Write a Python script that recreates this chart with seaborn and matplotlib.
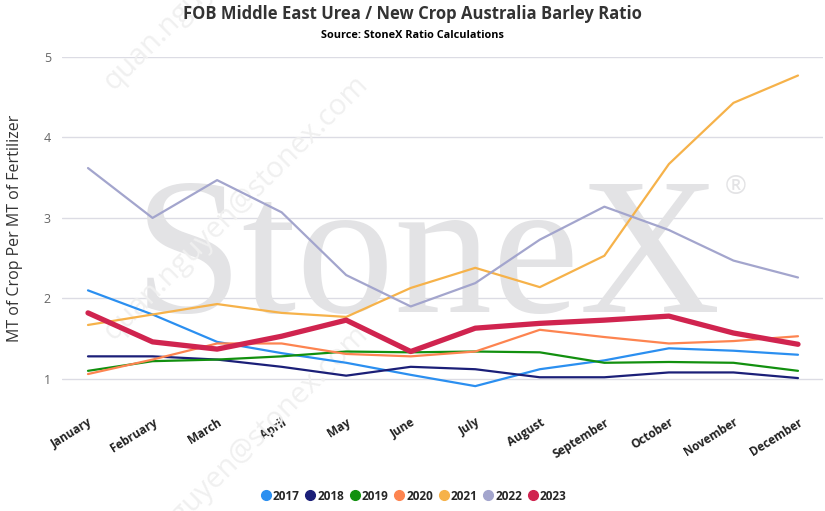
import matplotlib
matplotlib.use('Agg')
import matplotlib.pyplot as plt
import matplotlib.transforms as mtransforms
import pandas as pd
import seaborn as sns
from matplotlib.lines import Line2D

MONTHS = ['January', 'February', 'March', 'April', 'May', 'June', 'July',
          'August', 'September', 'October', 'November', 'December']
YEARS = ['2017', '2018', '2019', '2020', '2021', '2022', '2023']

r2017 = [2.10, 1.80, 1.46, 1.32, 1.20, 1.05, 0.91, 1.12, 1.23, 1.38, 1.35, 1.30]
r2018 = [1.28, 1.28, 1.24, 1.15, 1.04, 1.15, 1.12, 1.02, 1.02, 1.08, 1.08, 1.01]
r2019 = [1.10, 1.22, 1.24, 1.28, 1.34, 1.33, 1.34, 1.33, 1.20, 1.21, 1.20, 1.10]
r2020 = [1.06, 1.24, 1.44, 1.44, 1.31, 1.28, 1.34, 1.61, 1.52, 1.44, 1.47, 1.53]
r2021 = [1.67, 1.80, 1.93, 1.82, 1.77, 2.13, 2.38, 2.14, 2.53, 3.67, 4.43, 4.77]
r2022 = [3.62, 3.00, 3.47, 3.07, 2.29, 1.90, 2.19, 2.73, 3.14, 2.85, 2.47, 2.26]
r2023 = [1.82, 1.46, 1.37, 1.53, 1.73, 1.34, 1.63, 1.69, 1.73, 1.78, 1.57, 1.43]

COLORS = ['#2b8ff0', '#1b1f78', '#12900f', '#fd8450', '#f6b24a', '#a3a5cd', '#d0244f']


def main():
    series = [r2017, r2018, r2019, r2020, r2021, r2022, r2023]
    rows = []
    for year, vals in zip(YEARS, series):
        for i, v in enumerate(vals):
            rows.append({'year': year, 'month': i, 'ratio': v})
    df = pd.DataFrame(rows)

    sns.set_style('white')
    plt.rcParams['font.family'] = ['Open Sans', 'DejaVu Sans']

    fig = plt.figure(figsize=(8.25, 5.11), dpi=100)
    ax = fig.add_axes([62 / 825, 1 - 399 / 511, 761 / 825, 342 / 511])

    palette = dict(zip(YEARS, COLORS))
    sizes = {y: 1.6 for y in YEARS}
    sizes['2023'] = 3.8
    sns.lineplot(data=df, x='month', y='ratio', hue='year', size='year',
                 palette=palette, sizes=sizes, legend=False, ax=ax,
                 zorder=3)

    # watermark
    ax.text(428 / 825, 1 - 312 / 511, 'StoneX', transform=fig.transFigure,
            fontsize=141, family='Liberation Serif', color='#e3e3e5',
            ha='center', va='baseline', zorder=0.6)
    ax.text(736 / 825, 1 - 187 / 511, '®', transform=fig.transFigure,
            fontsize=19, color='#e3e3e5', ha='center', va='center', zorder=0.6)
    for cy in (-42, 208, 458):
        ax.text(236 / 825, 1 - cy / 511, 'quan.nguyen@stonex.com',
                transform=fig.transFigure, fontsize=21, color='#f0f0f0',
                rotation=45, ha='center', va='center', zorder=0.6,
                rotation_mode='anchor', clip_on=False)

    ax.set_xlim(-26 / 64.55, 11 + 25 / 64.55)
    ax.set_ylim(0.75, 5.0)
    ax.set_yticks([1, 2, 3, 4, 5])
    ax.set_xticks(range(12))
    ax.set_xticklabels(MONTHS, rotation=32, ha='right', rotation_mode='anchor',
                       fontsize=8.5, fontweight='bold', color='#222222')
    shift = mtransforms.ScaledTranslation(-5 / 100, -4 / 100, fig.dpi_scale_trans)
    for lab in ax.get_xticklabels():
        lab.set_transform(lab.get_transform() + shift)
    ax.tick_params(axis='y', labelsize=9, labelcolor='#666666', length=0, pad=8)
    ax.tick_params(axis='x', length=0, pad=12)
    ax.grid(axis='y', color='#dcdce4', linewidth=1)
    ax.set_axisbelow(True)
    for s in ax.spines.values():
        s.set_visible(False)
    ax.set_xlabel('')
    ax.set_ylabel('MT of Crop Per MT of Fertilizer', fontsize=11.5, color='#333333',
                  labelpad=15)
    ax.patch.set_alpha(0)

    fig.text(0.5, 1 - 14 / 511, 'FOB Middle East Urea / New Crop Australia Barley Ratio',
             ha='center', va='center', fontsize=12, fontweight='bold', color='#333333')
    fig.text(0.5, 1 - 35 / 511, 'Source: StoneX Ratio Calculations',
             ha='center', va='center', fontsize=7.8, fontweight='bold', color='#000000')

    handles = [Line2D([], [], linestyle='none', marker='o', markersize=7,
                      markerfacecolor=c, markeredgecolor=c) for c in COLORS]
    fig.legend(handles, YEARS, loc='center', bbox_to_anchor=(0.5, 1 - 496 / 511),
               ncol=7, frameon=False, handletextpad=0.0, columnspacing=0.3,
               prop={'size': 8.5, 'weight': 'bold'}, handlelength=1.2)

    fig.savefig('out.png', dpi=100)


if __name__ == '__main__':
    main()
